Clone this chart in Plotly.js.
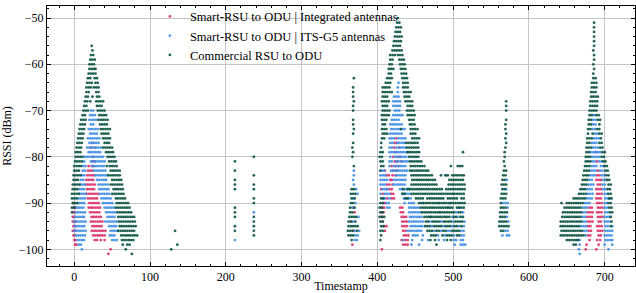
<!DOCTYPE html>
<html>
<head>
<meta charset="utf-8">
<script src="https://cdn.plot.ly/plotly-3.0.1.min.js"></script>
<style>html,body{margin:0;padding:0;background:#fff}#chart{width:636px;height:293px}</style>
</head>
<body>
<div id="chart"></div>
<script>
// Each row: [RSSI (dBm), [timestamps where that RSSI was observed]]
const integrated = [
  [-77,[24]],[-78,[22,27]],[-80,[25]],[-81,[24,27]],[-82,[19,23,26]],[-83,[18,21,24]],[-84,[17,20,23,26]],
  [-85,[16,19,22,25]],[-86,[15,18,21,24,27]],[-87,[17,20,23,26]],[-88,[16,19,22,25,28,31]],[-89,[18,21,24,27,30]],
  [-90,[-1,20,23,26,29,32]],[-91,[0,2,19,22,25,28,31,34]],[-92,[-1,1,21,24,27,30,33]],[-93,[-2,0,23,26,29,32,35]],
  [-94,[-2,0,2,22,25,28,31,34,37]],[-95,[-1,1,24,27,30,33,36]],[-96,[-2,0,2,23,26,29,32,35,38,41]],
  [-97,[-1,1,25,28,31,34,37,40]],[-98,[0,2,27,30,35,40]],[-99,[1,3]],[-100,[48]],[-101,[45]],
  [-91,[368]],[-92,[370]],[-94,[366]],[-96,[368]],[-99,[367]],
  [-76,[425]],[-77,[423,426]],[-78,[422,429]],[-79,[424]],[-80,[421,427,430]],[-81,[423,426,432]],[-82,[419,424,428]],
  [-83,[410,421,425]],[-84,[412,415,420,424]],[-85,[417,419]],[-86,[413,416,420]],[-87,[405,412,416,419]],
  [-88,[407,418,421]],[-89,[413,419,422]],[-90,[408,410]],[-91,[406,409,430,433]],[-92,[405,408,431,434]],
  [-93,[406,432,435,438]],[-94,[407,433,436,439]],[-95,[409,412,433,436,439]],[-96,[410,434,437]],
  [-97,[435,438,441]],[-98,[432,437,440]],[-99,[434,437,440]],[-100,[406]],
  [-79,[688]],[-81,[690]],[-83,[691]],[-84,[690,693]],[-85,[689,692,695]],[-86,[691,694]],[-87,[689,692,695]],
  [-88,[690,693,696]],[-89,[689,692,695]],[-90,[690,693,696]],[-91,[680,683,691,694,697]],
  [-92,[678,681,684,690,693,696]],[-93,[677,680,683,691,694,697]],[-94,[678,681,684,692,695]],
  [-95,[678,681,690,693,696]],[-96,[679,682,691,694,697]],[-97,[678,681,692,695]],[-98,[680,690,694]],
  [-99,[676,692]],[-100,[675,689]]
];

const itsg5 = [
  [-70,[22,25]],[-71,[21,24,27]],[-72,[20,23,26,29]],[-73,[22,25]],[-74,[19,22,25,28,31]],[-75,[21,24,27,30]],
  [-76,[18,21,24,27,30,33]],[-77,[20,23,26,29,32]],[-78,[17,20,23,26,29,32,35]],[-79,[19,22,25,28,31,34]],
  [-80,[14,17,20,23,26,29,32,35,38]],[-81,[13,22,25,28,31,34,37,40]],[-82,[12,15,24,27,30,33,36,39]],
  [-83,[11,14,26,29,32,35,38,41]],[-84,[10,13,28,31,34,37,40,43]],[-85,[9,12,30,33,36,39,42]],
  [-86,[8,11,14,32,35,38,41,44]],[-87,[7,10,13,33,36,39,42,45]],[-88,[6,9,12,15,34,37,40,43,46]],
  [-89,[5,8,11,14,36,39,42,45,48]],[-90,[4,7,10,13,38,41,44,47,50]],[-91,[3,6,9,12,40,43,46,49,52]],
  [-92,[2,5,8,11,14,42,45,48,51,54]],[-93,[1,4,7,10,13,44,47,50,53]],[-94,[0,3,6,9,12,15,41,44,47,50,53,56]],
  [-95,[1,4,7,10,13,46,49,52,55]],[-96,[0,3,6,9,12,15,48,51,54,57]],[-97,[2,5,8,11,14,47,50,53]],
  [-98,[4,7,10,13,50,53,56]],[-99,[6,9]],[-100,[10]],
  [-98,[212]],[-92,[237]],
  [-83,[369]],[-84,[369]],[-85,[368]],[-86,[369]],[-87,[372]],[-88,[374]],[-89,[368]],[-90,[371]],[-91,[367]],
  [-93,[375]],[-94,[368]],[-96,[370,376]],[-97,[371,374]],[-98,[370,373]],
  [-64,[428]],[-65,[427]],[-66,[427]],[-67,[422,425,428]],[-68,[421,424,427,430]],[-69,[421,424,427,430]],
  [-70,[423,426,429]],[-71,[421,424,427,430,433]],[-72,[419,422,425,428]],[-73,[417,420,423,426,429,432]],
  [-74,[418,421,424,427,430,433,436]],[-75,[417,420,423,426,429,432]],[-76,[416,419,422,428,431,434,437]],
  [-77,[417,420,426,429,432,435]],[-78,[416,419,425,428,431,434,437]],[-79,[416,419,422,425,428,431,434,437,440]],
  [-80,[417,423,426,429,432,435,438]],[-81,[416,419,425,428,431,434,437,440]],[-82,[416,422,425,428,431,434,437]],
  [-83,[406,409,418,421,424,427,430,433,436,439]],[-84,[404,407,410,425,428,431,434,437,490]],
  [-85,[404,407,410,413,422,425,428,431,434,437]],[-86,[404,407,410,421,424,427,430,433,436]],
  [-87,[407,410,413,430,433,436,439,442]],[-88,[404,410,413,416,433,436,439,442,500]],
  [-89,[407,410,416,435,438,441,444]],[-90,[412,415,436,442,445,448,460,481,496]],
  [-91,[413,416,442,445,448,451,454,493,508]],[-92,[442,445,448,451,454,457,482,504,513]],
  [-93,[443,446,449,452,455,458,470,499,507]],[-94,[442,445,448,451,454,457,460,470,485,500,515]],
  [-95,[444,447,450,453,456,459,472,487,499,508,514]],[-96,[440,443,446,449,452,455,458,475,484,493,496,511,514]],
  [-97,[447,450,453,460,480,489,501,511,514]],[-98,[434,446,459,467,481,488,501,504,510,513]],
  [-99,[445,455,502,510,513,516]],
  [-85,[571]],[-87,[570]],[-90,[566,569,572]],[-91,[572]],[-93,[571]],[-94,[573]],[-96,[569,572]],[-97,[565,571,574]],
  [-71,[686]],[-72,[685,688]],[-73,[685,688]],[-74,[684,687]],[-75,[687,690]],[-76,[686,689,692]],[-77,[683,686,689]],
  [-78,[685,688,691]],[-79,[682,685,688,691,694]],[-80,[684,687,690,693]],[-81,[684,687,693,696]],
  [-82,[683,686,689,695,698]],[-83,[682,685,688,694,697]],[-84,[681,684,687,696,699]],[-85,[680,683,698,701]],
  [-86,[679,682,685,697,700]],[-87,[677,680,683,698,701]],[-88,[678,681,684,700,703]],[-89,[677,680,683,701,704,707]],
  [-90,[674,677,680,700,703]],[-91,[671,674,677,700,703]],[-92,[672,675,701,704]],[-93,[671,674,700,703,706]],
  [-94,[672,675,700,703,706]],[-95,[669,672,675,701,704,710]],[-96,[673,676,701,704,707,710]],
  [-97,[675,700,703,706,709]],[-98,[664,667,701,704,707,710]],[-99,[667,700,710]],[-100,[666,705]],[-101,[667]]
];

const commercial = [
  [-56,[23]],[-57,[24]],[-58,[22,25]],[-59,[21,24,27]],[-60,[20,23,26]],[-61,[20,23,26,28]],[-62,[19,22,25,28]],
  [-63,[18,21,27,30]],[-64,[17,20,23,28,31]],[-65,[16,19,22,26,29,32]],[-66,[16,19,29,32]],[-67,[15,18,24,30,33]],
  [-68,[14,17,21,29,32,35,38]],[-69,[13,16,30,33,36]],[-70,[12,15,18,31,34,37,40]],[-71,[11,14,33,36,39,42]],
  [-72,[9,12,15,32,35,38,41,44]],[-73,[8,11,14,34,37,40,43]],[-74,[7,10,13,35,38,41,44,47]],[-75,[6,9,12,36,39,42,45]],
  [-76,[5,8,11,38,41,44,47]],[-77,[4,7,10,40,43,46]],[-78,[3,6,9,38,41,44,47,50]],[-79,[2,5,8,42,45,48,51]],
  [-80,[2,5,8,11,44,47,50,53]],[-81,[1,4,7,10,46,49,52,55]],[-82,[0,3,6,9,43,47,50,53,56]],
  [-83,[0,3,6,48,51,54,57,60]],[-84,[-1,2,5,8,45,48,51,54,57,60]],[-85,[-1,2,5,50,53,56,59,62]],
  [-86,[-2,1,4,7,48,51,54,57,60,63]],[-87,[-2,1,4,52,55,58,61,64]],[-88,[-3,0,3,6,50,53,56,59,62,65]],
  [-89,[-3,0,3,55,58,61,64,67]],[-90,[-2,1,4,56,59,62,65,68,71]],[-91,[-3,0,55,58,61,64,67,70,73]],
  [-92,[-3,57,60,63,66,69,72,75]],[-93,[58,61,64,67,70,73,76,79]],[-94,[59,62,65,68,71,74,77,80]],
  [-95,[60,63,66,69,72,75,78,81]],[-96,[58,61,64,67,70,73,76,79]],[-97,[62,65,68,71,74,77,80,83]],
  [-98,[63,66,69,72,75,78]],[-99,[64,70,73]],[-100,[68]],[-101,[76]],
  [-96,[133]],[-99,[136]],[-100,[128]],
  [-81,[212]],[-83,[212]],[-85,[212]],[-86,[212]],[-87,[212]],[-91,[212]],[-92,[212]],[-93,[212]],[-95,[212]],[-96,[212]],
  [-80,[237]],[-84,[237]],[-86,[237]],[-87,[237]],[-89,[237]],[-90,[237]],[-93,[237]],[-94,[237]],[-95,[237]],[-96,[237]],[-97,[237]],
  [-63,[369]],[-65,[368]],[-66,[368]],[-67,[368]],[-68,[369]],[-69,[368]],[-70,[368]],[-72,[368]],[-73,[368]],
  [-74,[369]],[-75,[368]],[-77,[368]],[-78,[367]],[-79,[368]],[-80,[367]],[-82,[369]],[-87,[366,369]],
  [-88,[365,368,371]],[-89,[366,370]],[-90,[365,368]],[-91,[364,370]],[-92,[364,367]],[-93,[363,366,369,372]],
  [-94,[362,365,371]],[-95,[362,365,368,371,374]],[-96,[361,364,367,373]],[-97,[362,365,368]],[-98,[366]],
  [-50,[427]],[-51,[426,429]],[-52,[425,428,431]],[-53,[424,427,430]],[-54,[423,426,429,432]],[-55,[422,425,428,431]],
  [-56,[421,424,427,430]],[-57,[420,423,426,429,432]],[-58,[417,420,423,427,430,433]],[-59,[417,420,429,432,435]],
  [-60,[416,419,430,433,436]],[-61,[415,418,421,431,434,437]],[-62,[415,418,432,435,438]],
  [-63,[413,416,419,433,436,439]],[-64,[411,414,417,434,437,440]],[-65,[407,410,413,416,434,437,440]],
  [-66,[407,410,413,416,419,435,438,441,444]],[-67,[407,410,413,436,439,442]],[-68,[406,409,412,415,437,440,443,446]],
  [-69,[407,410,413,440,443,446]],[-70,[407,410,413,416,439,442,445,448]],[-71,[406,409,412,415,440,443,446,449]],
  [-72,[406,409,412,442,445,448]],[-73,[407,410,443,446,449]],[-74,[406,409,412,431,444,447,450,453]],
  [-75,[407,410,413,444,447,450]],[-76,[406,409,446,449,452,455]],[-77,[405,438,441,444,447,450,453]],
  [-78,[405,439,442,445,448,451,454]],[-79,[404,407,440,443,446,449,452,455,513]],[-80,[403,406,442,445,448,451,454]],
  [-81,[404,407,443,446,449,452,455,458]],[-82,[405,408,444,447,450,453,456,459,462,497,506,509,512]],
  [-83,[404,443,446,449,452,455,458,461,464,467]],
  [-84,[445,448,451,454,457,460,463,466,469,472,484,490,493,499,502,505,508,511,514]],
  [-85,[446,449,452,455,458,461,464,467,470,473,476,495,498,501,504,507,510,513]],
  [-86,[445,448,451,454,457,460,463,466,469,472,475,478,494,497,500,503,506,509,512,515]],
  [-87,[434,440,443,446,449,452,455,458,461,464,467,470,473,476,479,482,485,491,494,497,500,503,506,509,512,515]],
  [-88,[433,436,445,448,451,454,457,460,463,466,469,472,475,478,481,484,487,490,493,496,499,502,505,508,511,514]],
  [-89,[405,408,437,440,451,454,457,460,466,469,472,475,478,481,484,487,493,496,499,502,505,511,514]],
  [-90,[404,407,455,458,461,464,467,470,473,476,479,482,485,488,491,494,497,500,503,506,509,512,515]],
  [-91,[403,406,457,460,463,466,469,472,475,478,481,484,487,490,493,496,499,505,508,511,514]],
  [-92,[404,407,459,462,465,468,471,474,477,480,483,486,489,492,495,498,501,507,510]],
  [-93,[403,406,409,462,465,468,471,474,477,480,483,486,489,492,495,501,504,510,513]],
  [-94,[404,407,464,467,473,476,479,482,488,491,494,497,503,506,509,512]],
  [-95,[405,408,463,466,469,475,478,481,484,490,493,496,502,505,511]],
  [-96,[404,407,466,469,472,478,481,487,490,499,502,505,508]],
  [-97,[405,471,474,477,486,492,495,498,505,508]],[-98,[404,470,476,492,497]],[-99,[478]],
  [-68,[570]],[-69,[570]],[-70,[570]],[-72,[570]],[-73,[569]],[-74,[569]],[-75,[570]],[-76,[569]],[-77,[570]],
  [-78,[569]],[-79,[568]],[-80,[568]],[-81,[567]],[-82,[568]],[-83,[567,570]],[-84,[566,569]],[-85,[565,568]],
  [-86,[564,567,570]],[-87,[565,568]],[-88,[564,567,570]],[-89,[563,566,569]],[-90,[563]],[-91,[563,566,569]],
  [-92,[562,565,568,571]],[-93,[562,565,568]],[-94,[561,564,567,570]],[-95,[561,564,567,570,573]],[-96,[563,566]],
  [-51,[686]],[-52,[686]],[-53,[686]],[-54,[686]],[-55,[686]],[-56,[686]],[-57,[685]],[-58,[686]],[-59,[686]],
  [-60,[685]],[-61,[686]],[-62,[685]],[-63,[685,688]],[-64,[683,686,689]],[-65,[683,686,689]],[-66,[682,685,688]],
  [-67,[682,685,688,691]],[-68,[681,684,687,690]],[-69,[681,684,687,690]],[-70,[680,683,686,689]],
  [-71,[680,683,689,692]],[-72,[679,682,691,694]],[-73,[679,682,693]],[-74,[678,681,690,693]],[-75,[678,684,693,696]],
  [-76,[677,680,683,695]],[-77,[677,680,693,696]],[-78,[676,679,682,694,697]],[-79,[676,679,697,700]],
  [-80,[675,678,681,696,699]],[-81,[675,678,681,698,701]],[-82,[674,677,680,700,703]],[-83,[673,676,679,701,704]],
  [-84,[672,675,678,702,705]],[-85,[671,674,677,703,706]],[-86,[670,673,676,705,708]],[-87,[668,671,674,704,707]],
  [-88,[666,669,672,675,705,708]],[-89,[659,662,665,668,671,674,706,709]],
  [-90,[643,650,653,656,659,662,665,668,671,705,708]],[-91,[647,650,653,656,659,662,665,668,706,709]],
  [-92,[645,648,651,654,657,660,663,666,669,707,710]],[-93,[644,647,650,653,656,659,662,665,668,708]],
  [-94,[642,645,648,651,654,657,660,663,666,669,709]],[-95,[642,645,648,651,654,657,660,663,666,708]],
  [-96,[643,646,649,652,655,658,661,664,667,670]],[-97,[642,645,648,651,654,657,660,663,666,669,672]],
  [-98,[650,653,656,659,662,665]],[-99,[659,662]]
];

const seriesNames = ['Smart-RSU to ODU | Integrated antennas','Smart-RSU to ODU | ITS-G5 antennas','Commercial RSU to ODU'];
const xTicks = [0,100,200,300,400,500,600,700];
const yTicks = [-50,-60,-70,-80,-90,-100];

function expand(rows){
  const x=[], y=[];
  rows.forEach(r => r[1].forEach(t => { x.push(t); y.push(r[0]); }));
  return {x, y};
}
const FONT = 'Liberation Serif, Times New Roman, serif';
const colors = ['#dc2f68','#3f8fe4','#0b5442'];
const traces = [integrated, itsg5, commercial].map((rows,i) => {
  const d = expand(rows);
  return {x:d.x, y:d.y, type:'scatter', mode:'markers', name:seriesNames[i],
    marker:{size:2.8, color:colors[i], opacity:0.9, line:{width:0}}};
});

const axisCommon = {
  showline:true, linecolor:'#000', linewidth:1, mirror:'ticks',
  ticks:'inside', ticklen:4, tickwidth:1, tickcolor:'#000',
  showgrid:true, gridcolor:'#c4c4c4', gridwidth:1, zeroline:false,
  tickfont:{family:FONT, size:12, color:'#000'}
};

const layout = {
  width:636, height:293,
  margin:{l:47, r:1, t:6, b:27},
  paper_bgcolor:'#fff', plot_bgcolor:'#fff',
  font:{family:FONT, size:12, color:'#000'},
  showlegend:true,
  legend:{x:0.175, y:1.016, xanchor:'left', yanchor:'top', bgcolor:'rgba(0,0,0,0)', borderwidth:0,
    font:{family:FONT, size:12.5, color:'#000'}, tracegroupgap:0, itemsizing:'trace'},
  xaxis:Object.assign({}, axisCommon, {range:[-36,740], tickvals:xTicks,
    minor:{dtick:20, ticks:'inside', ticklen:2, tickcolor:'#000', showgrid:false},
    title:{text:'Timestamp', standoff:1, font:{family:FONT, size:12, color:'#000'}}}),
  yaxis:Object.assign({}, axisCommon, {range:[-103.6,-47.4], tickvals:yTicks,
    minor:{dtick:2, ticks:'inside', ticklen:2, tickcolor:'#000', showgrid:false},
    title:{text:'RSSI (dBm)', standoff:4, font:{family:FONT, size:12, color:'#000'}}})
};

Plotly.newPlot('chart', traces, layout, {displayModeBar:false, staticPlot:true});
</script>
</body>
</html>
